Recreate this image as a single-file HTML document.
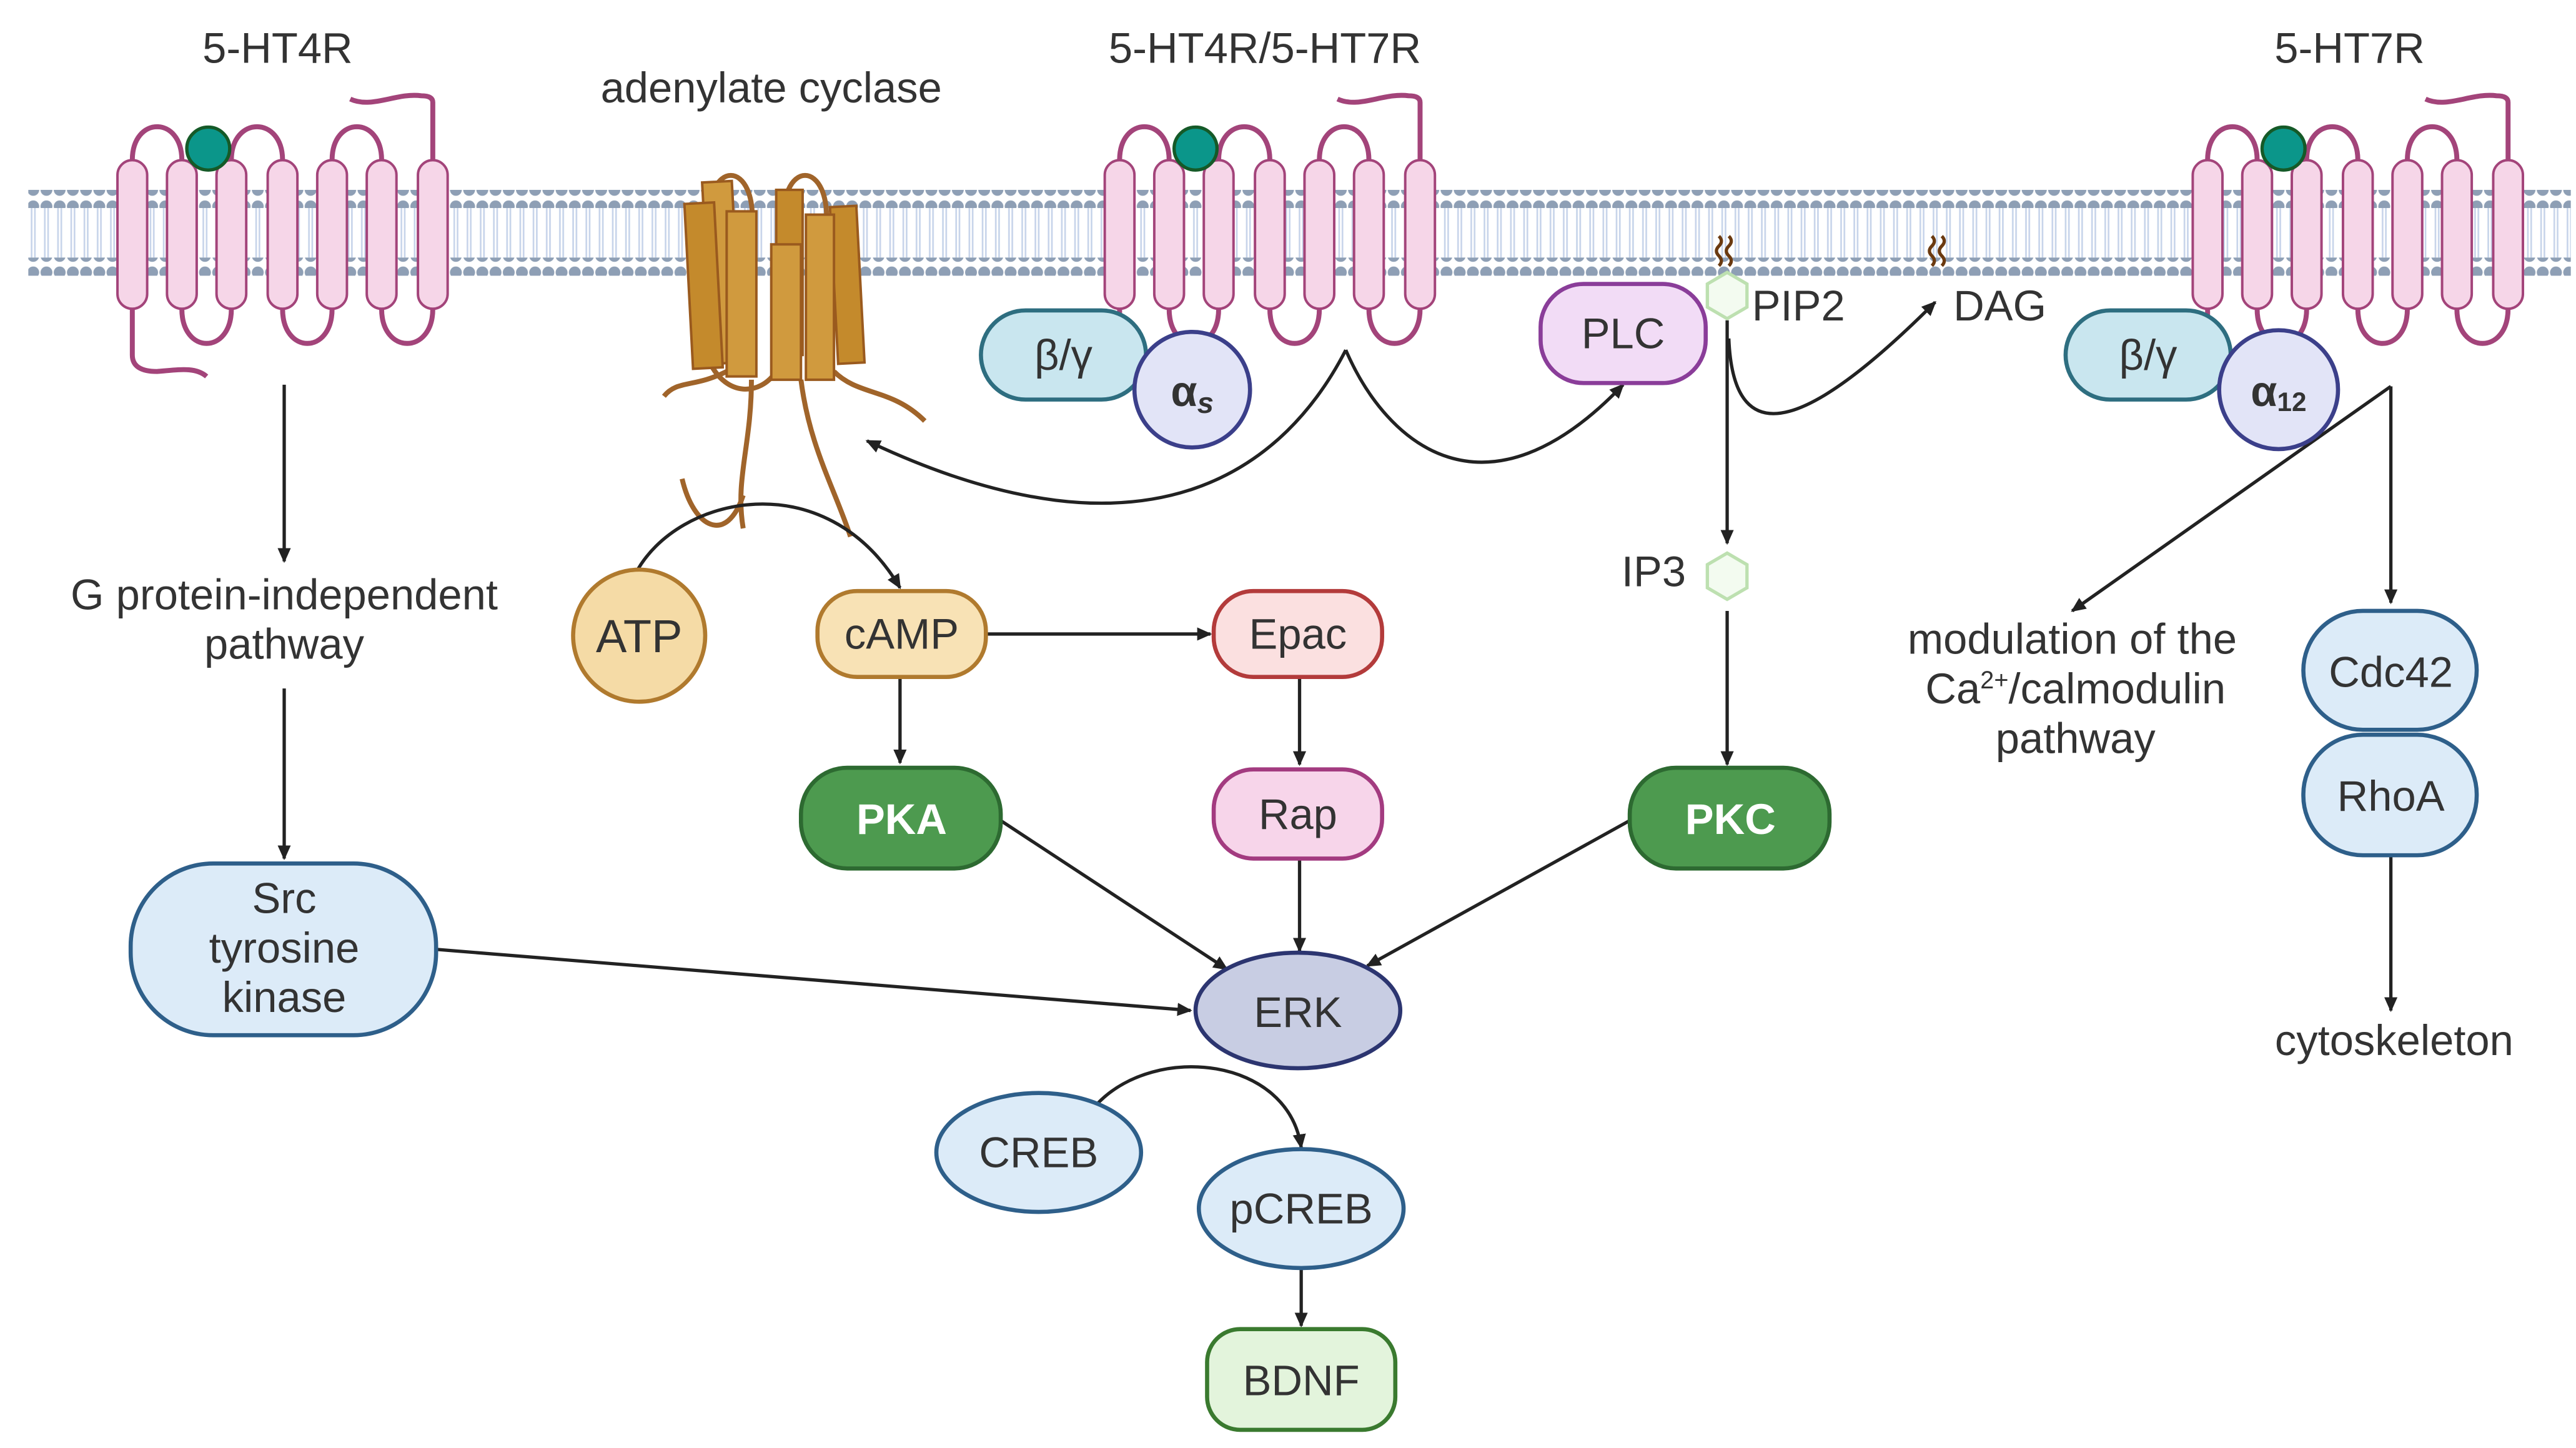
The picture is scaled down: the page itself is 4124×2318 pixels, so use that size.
<!DOCTYPE html>
<html><head><meta charset="utf-8"><style>
html,body{margin:0;padding:0;background:#fff;}
svg{display:block;}
text{font-family:"Liberation Sans",sans-serif;fill:#333;}
</style></head><body>
<svg width="4124" height="2318" viewBox="0 0 1560 877" xmlns="http://www.w3.org/2000/svg">
<defs>
<marker id="ah" markerWidth="10" markerHeight="10" refX="8" refY="5" orient="auto" markerUnits="userSpaceOnUse">
<path d="M0,1 L9,5 L0,9 Z" fill="#222"/></marker>
<pattern id="heads" width="8" height="10" patternUnits="userSpaceOnUse">
<circle cx="4" cy="5" r="3.6" fill="#8e9fb5"/></pattern>
<pattern id="tails" width="8" height="30" patternUnits="userSpaceOnUse">
<line x1="3" y1="0" x2="3" y2="30" stroke="#c7d4ea" stroke-width="1"/>
<line x1="5" y1="0" x2="5" y2="30" stroke="#c7d4ea" stroke-width="1"/></pattern>
<g id="rec">
<g fill="none" stroke="#a3447a" stroke-width="3">
<path d="M80,97 C80,70 110,70 110,97"/>
<path d="M140,97 C140,70 171,70 171,97"/>
<path d="M201,97 C201,70 231,70 231,97"/>
<path d="M110,187 C110,215 140,215 140,187"/>
<path d="M171,187 C171,215 201,215 201,187"/>
<path d="M231,187 C231,215 262,215 262,187"/>
<path d="M262,97 L262,62 Q262,58 255,58 C240,56 225,66 212,60"/>
<path d="M80,187 L80,215 Q80,225 95,225 C108,224 118,222 125,228"/>
</g>
<g fill="#f6d6e8" stroke="#a3447a" stroke-width="1.5">
<rect x="71" y="97" width="18" height="90" rx="9"/>
<rect x="101" y="97" width="18" height="90" rx="9"/>
<rect x="131" y="97" width="18" height="90" rx="9"/>
<rect x="162" y="97" width="18" height="90" rx="9"/>
<rect x="192" y="97" width="18" height="90" rx="9"/>
<rect x="222" y="97" width="18" height="90" rx="9"/>
<rect x="253" y="97" width="18" height="90" rx="9"/>
</g>
<circle cx="126" cy="90" r="13" fill="#0b968a" stroke="#155a28" stroke-width="2"/>
</g>
</defs>

<rect x="17" y="126" width="1540" height="30" fill="url(#tails)"/>
<rect x="17" y="115" width="1540" height="11" fill="url(#heads)"/>
<rect x="17" y="156" width="1540" height="11" fill="url(#heads)"/>

<use href="#rec"/>
<use href="#rec" x="598"/>
<use href="#rec" x="1257"/>

<g stroke="#a0642a" stroke-width="3" fill="none">
<path d="M430,140 C425,95 460,95 455,140"/>
<path d="M475,140 C470,95 505,95 500,140"/>
<path d="M440,225 C420,235 410,230 402,240"/>
<path d="M455,230 C455,270 445,290 450,320"/>
<path d="M485,230 C490,270 505,295 515,325"/>
<path d="M505,225 C520,240 540,235 560,255"/>
<path d="M430,220 C440,240 460,240 470,225"/>
<path d="M450,300 C440,330 420,320 413,290"/>
</g>
<g fill="#d09a3e" stroke="#9a5a1e" stroke-width="1.5">
<rect x="428" y="110" width="18" height="110" transform="rotate(-3 437 165)"/>
<rect x="470" y="115" width="16" height="100" fill="#c48a2c"/>
<rect x="417" y="123" width="18" height="100" fill="#c48a2c" transform="rotate(-3 426 173)"/>
<rect x="505" y="125" width="16" height="95" fill="#c48a2c" transform="rotate(-3 513 172)"/>
<rect x="440" y="128" width="18" height="100"/>
<rect x="488" y="130" width="17" height="100"/>
<rect x="467" y="148" width="18" height="82"/>
</g>

<g stroke="#222" stroke-width="2" fill="none" marker-end="url(#ah)">
<line x1="172" y1="233" x2="172" y2="340"/>
<line x1="172" y1="417" x2="172" y2="520"/>
<line x1="264" y1="575" x2="721" y2="612"/>
<line x1="606" y1="497" x2="743" y2="587"/>
<line x1="787" y1="520" x2="787" y2="576"/>
<line x1="987" y1="497" x2="828" y2="585"/>
<line x1="545" y1="410" x2="545" y2="462"/>
<line x1="597" y1="384" x2="733" y2="384"/>
<line x1="787" y1="410" x2="787" y2="463"/>
<path d="M385,347 C410,300 500,280 545,356"/>
<path d="M815,212 C780,280 700,350 525,267"/>
<path d="M815,212 C840,270 900,320 983,233"/>
<line x1="1046" y1="194" x2="1046" y2="329"/>
<line x1="1046" y1="370" x2="1046" y2="463"/>
<path d="M1047,205 C1050,280 1100,255 1172,183"/>
<line x1="1448" y1="234" x2="1255" y2="370"/>
<line x1="1448" y1="234" x2="1448" y2="365"/>
<line x1="1448" y1="518" x2="1448" y2="612"/>
<path d="M665,668 C700,632 780,640 788,695"/>
<line x1="788" y1="768" x2="788" y2="803"/>
</g>

<g stroke="#6b3a10" stroke-width="2" fill="none">
<path d="M1041,143 q3,3 0,6 q-3,3 0,6 q3,3 0,6"/><path d="M1047,143 q3,3 0,6 q-3,3 0,6 q3,3 0,6"/>
<path d="M1170,143 q3,3 0,6 q-3,3 0,6 q3,3 0,6"/><path d="M1176,143 q3,3 0,6 q-3,3 0,6 q3,3 0,6"/>
</g>
<polygon points="1046,165 1058,172 1058,186 1046,193 1034,186 1034,172" fill="#f3fbf0" stroke="#bde0b0" stroke-width="2"/>
<polygon points="1046,335 1058,342 1058,356 1046,363 1034,356 1034,342" fill="#f3fbf0" stroke="#bde0b0" stroke-width="2"/>

<g stroke-width="2.5">
<rect x="594" y="188" width="100" height="54" rx="27" fill="#c9e6ef" stroke="#2e6e80"/>
<circle cx="722" cy="236" r="35" fill="#e2e4f7" stroke="#3b3f8a"/>
<rect x="1251" y="188" width="100" height="54" rx="27" fill="#c9e6ef" stroke="#2e6e80"/>
<circle cx="1380" cy="236" r="36" fill="#e2e4f7" stroke="#3b3f8a"/>
<rect x="933" y="172" width="100" height="60" rx="26" fill="#f2dcf6" stroke="#8a3d99"/>
<circle cx="387" cy="385" r="40" fill="#f5dba6" stroke="#b07a2e"/>
<rect x="495" y="358" width="102" height="52" rx="24" fill="#f8e2b5" stroke="#b07a2e"/>
<rect x="735" y="358" width="102" height="52" rx="24" fill="#fbe0e0" stroke="#b33b3b"/>
<rect x="485" y="465" width="121" height="61" rx="28" fill="#4d9a4f" stroke="#2d6a31"/>
<rect x="735" y="466" width="102" height="54" rx="24" fill="#f7d5ea" stroke="#a33b80"/>
<rect x="987" y="465" width="121" height="61" rx="28" fill="#4d9a4f" stroke="#2d6a31"/>
<ellipse cx="786" cy="612" rx="62" ry="35" fill="#c8cde3" stroke="#2c3570"/>
<rect x="79" y="523" width="185" height="104" rx="50" fill="#dcebf8" stroke="#2e5f8a"/>
<ellipse cx="629" cy="698" rx="62" ry="36" fill="#dcebf8" stroke="#2e5f8a"/>
<ellipse cx="788" cy="732" rx="62" ry="36" fill="#dcebf8" stroke="#2e5f8a"/>
<rect x="731" y="805" width="114" height="61" rx="20" fill="#e3f4dc" stroke="#3a7a2f"/>
<rect x="1395" y="370" width="105" height="72" rx="36" fill="#dcebf8" stroke="#2e5f8a"/>
<rect x="1395" y="445" width="105" height="73" rx="36" fill="#dcebf8" stroke="#2e5f8a"/>
</g>

<g font-size="26" text-anchor="middle">
<text x="168" y="38">5-HT4R</text>
<text x="467" y="62">adenylate cyclase</text>
<text x="766" y="38">5-HT4R/5-HT7R</text>
<text x="1423" y="38">5-HT7R</text>
<text x="172" y="369">G protein-independent</text>
<text x="172" y="399">pathway</text>
<text x="644" y="224">β/γ</text>
<text x="722" y="246" font-weight="bold">α<tspan font-size="18" font-style="italic" dy="4">s</tspan></text>
<text x="1301" y="224">β/γ</text>
<text x="1380" y="246" font-weight="bold">α<tspan font-size="16" dy="3">12</tspan></text>
<text x="983" y="211">PLC</text>
<text x="387" y="395" font-size="28">ATP</text>
<text x="546" y="393">cAMP</text>
<text x="786" y="393">Epac</text>
<text x="546" y="505" font-weight="bold" style="fill:#fff">PKA</text>
<text x="786" y="502">Rap</text>
<text x="1048" y="505" font-weight="bold" style="fill:#fff">PKC</text>
<text x="786" y="622">ERK</text>
<text x="172" y="553">Src</text>
<text x="172" y="583">tyrosine</text>
<text x="172" y="613">kinase</text>
<text x="629" y="707">CREB</text>
<text x="788" y="741">pCREB</text>
<text x="788" y="845">BDNF</text>
<text x="1448" y="416">Cdc42</text>
<text x="1448" y="491">RhoA</text>
<text x="1255" y="396">modulation of the</text>
<text x="1257" y="426">Ca<tspan font-size="15" dy="-9">2+</tspan><tspan dy="9">/calmodulin</tspan></text>
<text x="1257" y="456">pathway</text>
<text x="1450" y="639">cytoskeleton</text>
</g>
<g font-size="26">
<text x="1061" y="194">PIP2</text>
<text x="1183" y="194">DAG</text>
<text x="982" y="355">IP3</text>
</g>
</svg>
</body></html>
